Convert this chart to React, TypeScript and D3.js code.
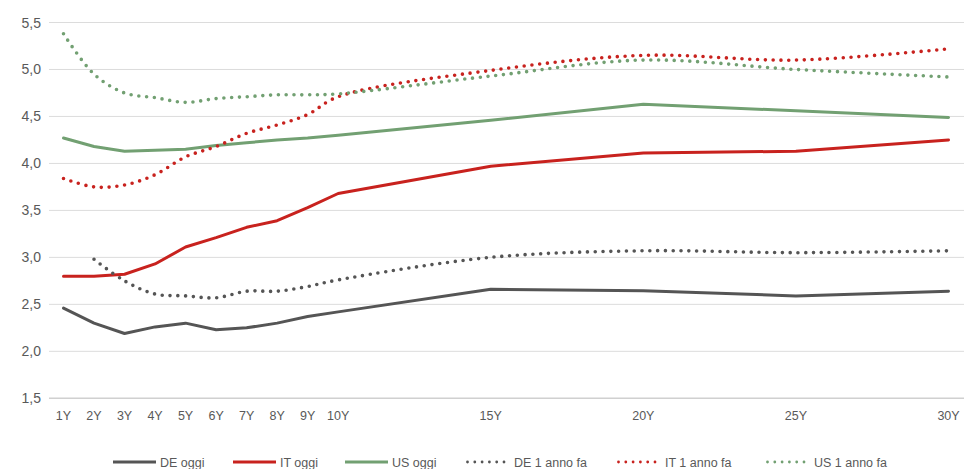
import React from "react";
import * as d3 from "d3";

// Maturities in years and their axis labels
const maturities = [1, 2, 3, 4, 5, 6, 7, 8, 9, 10, 15, 20, 25, 30];
const maturityLabels = ["1Y", "2Y", "3Y", "4Y", "5Y", "6Y", "7Y", "8Y", "9Y", "10Y", "15Y", "20Y", "25Y", "30Y"];
const yTicks = [1.5, 2.0, 2.5, 3.0, 3.5, 4.0, 4.5, 5.0, 5.5];

// Yield curves today (%)
const deToday = [2.46, 2.30, 2.19, 2.26, 2.30, 2.23, 2.25, 2.30, 2.37, 2.42, 2.66, 2.645, 2.59, 2.64];
const itToday = [2.80, 2.80, 2.82, 2.93, 3.11, 3.21, 3.32, 3.39, 3.53, 3.68, 3.97, 4.11, 4.13, 4.25];
const usToday = [4.27, 4.18, 4.13, 4.14, 4.15, 4.19, 4.22, 4.25, 4.27, 4.30, 4.46, 4.63, 4.56, 4.49];

// Yield curves one year ago (%); DE has no 1Y point
const deYearAgo = [null, 2.98, 2.75, 2.61, 2.59, 2.57, 2.64, 2.64, 2.69, 2.76, 3.00, 3.07, 3.05, 3.07];
const itYearAgo = [3.84, 3.75, 3.77, 3.88, 4.07, 4.18, 4.32, 4.41, 4.52, 4.71, 4.99, 5.15, 5.10, 5.22];
const usYearAgo = [5.38, 4.95, 4.75, 4.70, 4.65, 4.69, 4.71, 4.73, 4.73, 4.74, 4.93, 5.10, 5.00, 4.92];

const seriesNames = ["DE oggi", "IT oggi", "US oggi", "DE 1 anno fa", "IT 1 anno fa", "US 1 anno fa"];

const GRAY = "#555555";
const RED = "#C8221E";
const GREEN = "#72A072";

type Series = { name: string; values: (number | null)[]; color: string; dotted: boolean };

const series: Series[] = [
  { name: seriesNames[0], values: deToday, color: GRAY, dotted: false },
  { name: seriesNames[1], values: itToday, color: RED, dotted: false },
  { name: seriesNames[2], values: usToday, color: GREEN, dotted: false },
  { name: seriesNames[3], values: deYearAgo, color: GRAY, dotted: true },
  { name: seriesNames[4], values: itYearAgo, color: RED, dotted: true },
  { name: seriesNames[5], values: usYearAgo, color: GREEN, dotted: true },
];

const W = 964;
const H = 469;
const FONT = "'Liberation Sans', Arial, sans-serif";

export default function App() {
  const x = d3.scaleLinear().domain([1, 30]).range([63.5, 948.5]);
  const y = d3.scaleLinear().domain([1.5, 5.5]).range([398.3, 22.5]);

  const lineFor = (s: Series) => {
    const pts = maturities
      .map((m, i) => [m, s.values[i]] as [number, number | null])
      .filter((p) => p[1] !== null) as [number, number][];
    const gen = d3
      .line<[number, number]>()
      .x((d) => x(d[0]))
      .y((d) => y(d[1]))
      .curve(s.dotted ? d3.curveCatmullRom.alpha(0.5) : d3.curveLinear);
    return gen(pts) || "";
  };

  const legendX = [113, 233, 345, 466, 617, 766];
  const legendY = 462;

  return (
    <svg
      width={W}
      height={H}
      style={{ position: "absolute", left: 0, top: 0, background: "#fff" }}
      fontFamily={FONT}
    >
      {/* horizontal gridlines */}
      {yTicks.map((t, i) => (
        <line
          key={t}
          x1={49}
          x2={W}
          y1={y(t)}
          y2={y(t)}
          stroke={i === 0 ? "#d0d0d0" : "#dcdcdc"}
          strokeWidth={i === 0 ? 1.5 : 1}
        />
      ))}
      {/* y axis labels */}
      {yTicks.map((t) => (
        <text key={t} x={41} y={y(t) + 5} textAnchor="end" fontSize={14} fill="#595959">
          {t.toFixed(1).replace(".", ",")}
        </text>
      ))}
      {/* x axis labels */}
      {maturities.map((m, i) => (
        <text key={m} x={x(m)} y={420} textAnchor="middle" fontSize={12.5} fill="#595959">
          {maturityLabels[i]}
        </text>
      ))}
      {/* curves */}
      {series.map((s) => (
        <path
          key={s.name}
          d={lineFor(s)}
          fill="none"
          stroke={s.color}
          strokeWidth={s.dotted ? 3.6 : 3}
          strokeLinecap="round"
          strokeLinejoin="round"
          strokeDasharray={s.dotted ? "0 7.8" : undefined}
        />
      ))}
      {/* legend */}
      {series.map((s, i) => (
        <g key={s.name} transform={`translate(${legendX[i]},${legendY})`}>
          <line
            x1={s.dotted ? 1.5 : 0}
            x2={s.dotted ? 45 : 43}
            y1={0}
            y2={0}
            stroke={s.color}
            strokeWidth={s.dotted ? 2.8 : 3}
            strokeLinecap={s.dotted ? "round" : "butt"}
            strokeDasharray={s.dotted ? "0 7.3" : undefined}
          />
          <text x={s.dotted ? 48 : 47} y={4.5} fontSize={12.5} fill="#595959">
            {s.name}
          </text>
        </g>
      ))}
    </svg>
  );
}
